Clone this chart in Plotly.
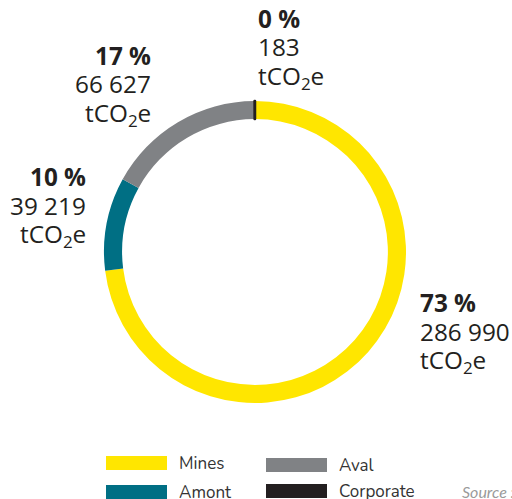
import plotly.graph_objects as go

categories = ["Mines", "Amont", "Aval", "Corporate"]
values = [286990, 39219, 66627, 183]
percents = ["73 %", "10 %", "17 %", "0 %"]
value_labels = ["286 990", "39 219", "66 627", "183"]
colors = ["#FFE600", "#006F84", "#808285", "#231F20"]

W, H = 512, 499
def px(x):
    return x / W
def py(y):
    return 1 - y / H

cx, cy, r = 255, 252, 151
fig = go.Figure(go.Pie(
    labels=categories, values=values, sort=False, direction="clockwise",
    rotation=0, hole=0.88, textinfo="none", hoverinfo="label+value+percent",
    marker=dict(colors=colors,
                line=dict(color=["rgba(0,0,0,0)"] * 3 + ["#231F20"], width=2.5)),
    domain=dict(x=[px(cx - r), px(cx + r)], y=[py(cy + r), py(cy - r)]),
    showlegend=False,
))

font = "Open Sans"
txtc = "#231F20"
label_pos = {
    "Mines": (418, 302, "left"),
    "Amont": (88, 176, "right"),
    "Aval": (153, 55, "right"),
    "Corporate": (256, 18, "left"),
}
annotations = []
for cat, pct, val in zip(categories, percents, value_labels):
    x, y0, anc = label_pos[cat]
    lines = [("<b>" + pct + "</b>", 0), (val, 29), ("tCO<sub>2</sub>e", 59)]
    for t, dy in lines:
        annotations.append(dict(
            x=px(x), y=py(y0 + dy), xref="paper", yref="paper", text=t,
            showarrow=False, xanchor=anc, yanchor="middle",
            font=dict(family=font, size=24.3, color=txtc)))

shapes = []
legend_pos = {"Mines": (106, 463), "Amont": (106, 492), "Aval": (266, 465), "Corporate": (266, 491)}
for cat, col in zip(categories, colors):
    x, y = legend_pos[cat]
    shapes.append(dict(type="rect", xref="paper", yref="paper",
                       x0=px(x), x1=px(x + 61), y0=py(y + 7), y1=py(y - 7),
                       fillcolor=col, line=dict(width=0)))
    annotations.append(dict(x=px(x + 71), y=py(y), xref="paper", yref="paper",
                            text=cat, showarrow=False, xanchor="left", yanchor="middle",
                            font=dict(family="Nunito, Lato", size=17, color="#333")))
annotations.append(dict(x=px(460), y=py(491), xref="paper", yref="paper",
                        text="<i>Source : Eramet</i>", showarrow=False, xanchor="left",
                        yanchor="middle", font=dict(family="Lato", size=16, color="#9a9a9a")))

fig.update_layout(width=W, height=H, margin=dict(l=0, r=0, t=0, b=0),
                  paper_bgcolor="white", plot_bgcolor="white",
                  annotations=annotations, shapes=shapes)
fig.write_html("out.html", config={"displayModeBar": False},
               post_script="document.body.style.margin='0';document.body.style.overflow='hidden';")
